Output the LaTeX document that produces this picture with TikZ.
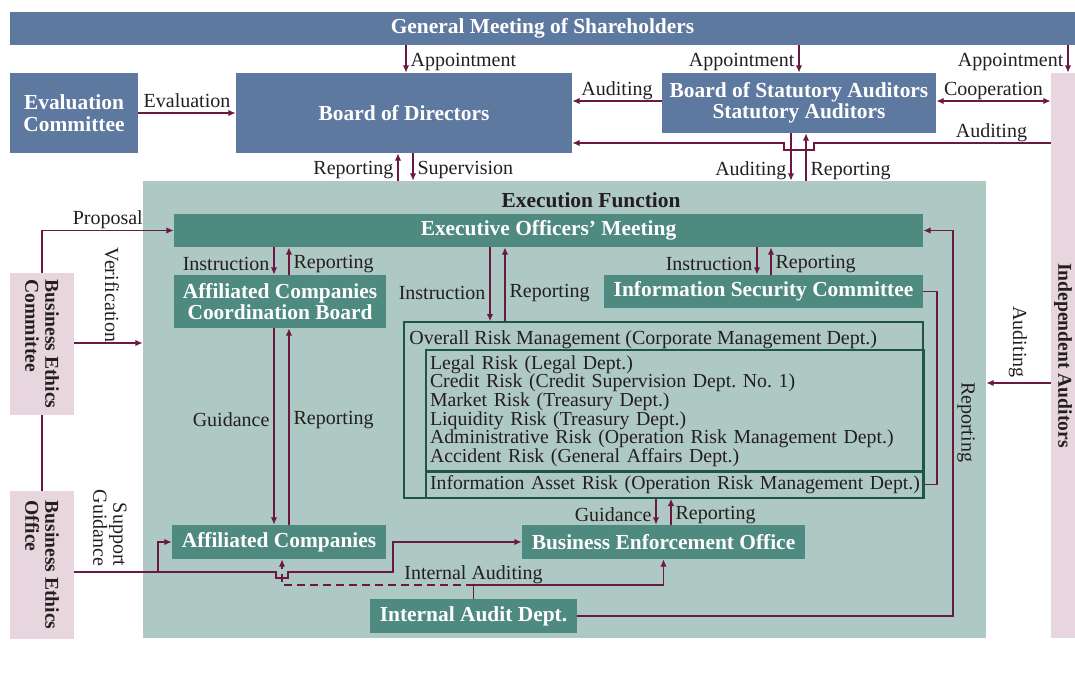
\documentclass[tikz,border=0pt]{standalone}
\usepackage{fontspec}
\setmainfont{Liberation Serif}
\usetikzlibrary{arrows.meta}
\definecolor{boardblue}{HTML}{5E79A0}
\definecolor{execteal}{HTML}{4F8A80}
\definecolor{execbg}{HTML}{AEC8C3}
\definecolor{ethicspink}{HTML}{E8D6DE}
\definecolor{wine}{HTML}{6B1843}
\definecolor{riskline}{HTML}{1E5546}
\definecolor{ink}{HTML}{231F20}
\tikzset{>={Latex[length=3.6pt,width=3.2pt]},
         boardbox/.style = {fill=boardblue, text=white, inner sep=0pt, align=center,
                            font=\fontsize{10.7}{10.7}\selectfont\bfseries},
         execbox/.style = {boardbox, fill=execteal},
         ethicsbox/.style = {fill=ethicspink, text=ink, inner sep=0pt, rotate=-90, align=left,
                             font=\fontsize{9.8}{10}\selectfont\bfseries},
         riskbox/.style = {draw=riskline, line width=0.8pt, inner sep=2pt, align=left, text=ink,
                           font=\fontsize{9.9}{9.3}\selectfont\frenchspacing},
         lbl/.style = {text=ink, inner sep=2pt, yshift=-1.5pt, font=\fontsize{10}{10}\selectfont\frenchspacing},
         link/.style = {draw=wine, line width=0.6pt},
         audit/.style = {dash pattern=on 4pt off 2.5pt}}

\begin{document}
\begin{tikzpicture}[x=0.5pt, y=-0.5pt]
    \useasboundingbox (0, 0) rectangle (1075, 680);
    % governance
    \node (gms) at (542.5, 28.5) [boardbox, minimum width=532.5pt, minimum height=16.5pt] {General Meeting of Shareholders};
    \node (eval) at (74, 113) [boardbox, minimum width=64pt, minimum height=40pt] {Evaluation\\Committee};
    \node (bod) at (404, 113) [boardbox, minimum width=168pt, minimum height=40pt] {Board of Directors};
    \node (bsa) at (799, 103) [boardbox, minimum width=137pt, minimum height=30pt] {Board of Statutory Auditors\\Statutory Auditors};
    \node (ia) at (1063, 355.5) [ethicsbox, align=center, minimum width=282.5pt, minimum height=12pt] {Independent Auditors};
    % execution function
    \node (exf) at (564.5, 409.5) [fill=execbg, inner sep=0pt, minimum width=421.5pt, minimum height=228.5pt] {};
    \node (exft) at (591, 200) [text=ink, inner sep=0pt, font=\fontsize{10.7}{10.7}\selectfont\bfseries] {Execution Function};
    \node (eom) at (548.5, 230.5) [execbox, minimum width=374.5pt, minimum height=16.5pt] {Executive Officers' Meeting};
    \node (accb) at (280, 301.5) [execbox, minimum width=106pt, minimum height=26.5pt] {Affiliated Companies\\Coordination Board};
    \node (isc) at (763.5, 291.5) [execbox, minimum width=159.5pt, minimum height=16.5pt] {Information Security Committee};
    \node (risk) at (663.5, 410) [riskbox, inner sep=0pt, minimum width=259.5pt, minimum height=88pt] {};
    \node (riskhd) at (409, 337) [lbl, anchor=west, inner sep=0pt] {Overall Risk Management (Corporate Management Dept.)};
    \node (riskin) at (675, 411) [riskbox, text width=245pt, minimum width=248pt, minimum height=61pt]
      {Legal Risk (Legal Dept.)\\
       Credit Risk (Credit Supervision Dept. No. 1)\\
       Market Risk (Treasury Dept.)\\
       Liquidity Risk (Treasury Dept.)\\
       Administrative Risk (Operation Risk Management Dept.)\\
       Accident Risk (General Affairs Dept.)};
    \node (infoa) at (675, 484.5) [riskbox, text width=245pt, minimum width=248pt, minimum height=13.5pt] {Information Asset Risk (Operation Risk Management Dept.)};
    \node (ac) at (279, 542) [execbox, minimum width=107pt, minimum height=17pt] {Affiliated Companies};
    \node (benf) at (663.5, 542) [execbox, minimum width=141.5pt, minimum height=17pt] {Business Enforcement Office};
    \node (iad) at (473.5, 616) [execbox, minimum width=103.5pt, minimum height=17pt] {Internal Audit Dept.};
    % business ethics
    \node (bec) at (42, 344) [ethicsbox, minimum width=71pt, minimum height=32pt] {Business Ethics\\Committee};
    \node (beo) at (42, 565) [ethicsbox, minimum width=74pt, minimum height=32pt] {Business Ethics\\Office};

    % board level lines
    \draw [link, ->] (406,0 |- gms.south) -- (406,0 |- bod.north) node [midway, right, lbl] {Appointment};
    \draw [link, ->] (bsa.north |- gms.south) -- (bsa.north) node [midway, left, lbl] {Appointment};
    \draw [link, ->] (1068,0 |- gms.south) -- (1068,0 |- ia.west) node [midway, left, lbl] {Appointment};
    \draw [link, ->] (eval) -- (bod) node [midway, above, lbl, yshift=2pt] {Evaluation};
    \draw [link, ->] (bsa.west |- 0,101) -- (bod.east |- 0,101) node [midway, above, lbl] {Auditing};
    \draw [link, <->] (bsa.east |- 0,101) -- (ia.south |- 0,101) node [midway, above, lbl] {Cooperation};
    \draw [link, ->] (ia.south |- 0,143) -- node [pos=0.25, above, lbl] {Auditing} (814,143)
      -- (814,150) -- (784,150) -- (784,143) -- (bod.east |- 0,143);
    \draw [link, ->] (791,0 |- bsa.south) -- (791,0 |- exf.north) node [pos=0.72, left, lbl] {Auditing};
    \draw [link, ->] (806,0 |- exf.north) -- (806,0 |- bsa.south) node [pos=0.27, right, lbl] {Reporting};
    \draw [link, ->] (398,0 |- exf.north) -- (398,0 |- bod.south) node [midway, left, lbl] {Reporting};
    \draw [link, ->] (413,0 |- bod.south) -- (413,0 |- exf.north) node [midway, right, lbl] {Supervision};

    % inside the execution function
    \draw [link, ->] (274,0 |- eom.south) -- (274,0 |- accb.north) node [midway, left, lbl] {Instruction};
    \draw [link, ->] (289,0 |- accb.north) -- (289,0 |- eom.south) node [midway, right, lbl] {Reporting};
    \draw [link, ->] (490,0 |- eom.south) -- (490,0 |- risk.north) node [pos=0.58, left, lbl] {Instruction};
    \draw [link, ->] (505,0 |- risk.north) -- (505,0 |- eom.south) node [pos=0.42, right, lbl] {Reporting};
    \draw [link, ->] (757,0 |- eom.south) -- (757,0 |- isc.north) node [midway, left, lbl] {Instruction};
    \draw [link, ->] (771,0 |- isc.north) -- (771,0 |- eom.south) node [midway, right, lbl] {Reporting};
    \draw [link, ->] (274,0 |- accb.south) -- (274,0 |- ac.north) node [pos=0.45, left, lbl] {Guidance};
    \draw [link, ->] (289,0 |- ac.north) -- (289,0 |- accb.south) node [pos=0.55, right, lbl] {Reporting};
    \draw [link, ->] (656,0 |- risk.south) -- (656,0 |- benf.north) node [midway, left, lbl] {Guidance};
    \draw [link, ->] (671,0 |- benf.north) -- (671,0 |- risk.south) node [midway, right, lbl] {Reporting};
    \draw [link] (isc.east) -- (937,0 |- isc.east) |- (infoa.east);
    \draw [link, ->] (iad.east) -| (953,0 |- eom.east) -- (eom.east);
    \node (lblrep) at (966, 419) [lbl, rotate=-90] {Reporting};
    \draw [link, ->] (ia.south |- 0,383) -- (exf.east |- 0,383);
    \node (lblaud) at (1018, 339) [lbl, rotate=-90] {Auditing};

    % internal audit
    \draw [link, ->] (iad.north) |- node [pos=0.5, above, lbl] {Internal Auditing} (benf.south |- 0,585) -- (benf.south);
    \draw [link, audit, ->] (iad.north |- 0,585) -- (282,585) -- (282,0 |- ac.south);

    % business ethics lines
    \draw [link, ->] (bec.west) |- (eom.west) node [pos=0.75, above, lbl] {Proposal};
    \draw [link, ->] (bec.north |- 0,343) -- (exf.west |- 0,343);
    \node (lblver) at (112, 292) [lbl, rotate=-90] {Verification};
    \draw [link] (bec.east) -- (beo.west);
    \draw [link, ->] (beo.north |- 0,572) -- (158,572) |- (ac.west);
    \draw [link, ->] (158,572) -- (276,572) -- (276,578) -- (288,578) -- (288,572) -- (393,572) |- (benf.west);
    \node (lblsup) at (110, 525) [lbl, rotate=-90, align=right] {Support\\Guidance};
\end{tikzpicture}
\end{document}
